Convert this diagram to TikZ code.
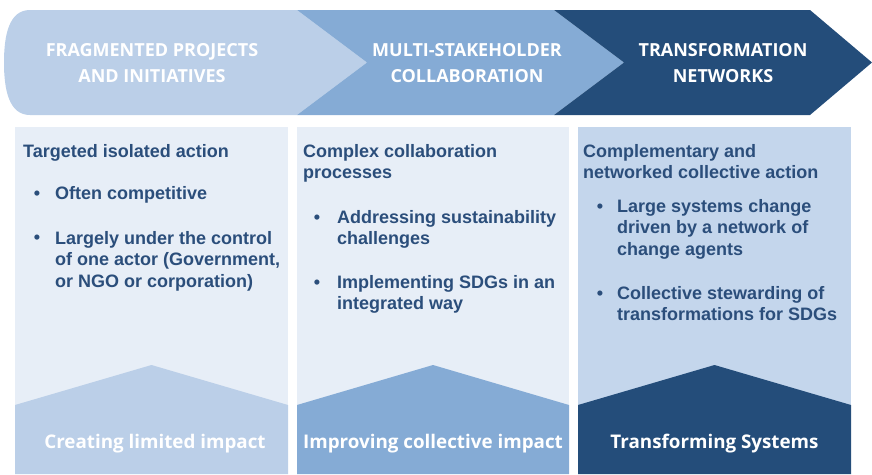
\documentclass[tikz,border=0pt]{standalone}
\usepackage{fontspec}
\setmainfont{Liberation Sans}
\newfontfamily\opensans{Open Sans}
\usepackage{tikz}

\definecolor{stageone}{RGB}{187,207,232}
\definecolor{stagetwo}{RGB}{133,171,213}
\definecolor{stagethree}{RGB}{36,77,122}
\definecolor{panelpale}{RGB}{231,238,247}
\definecolor{panelmid}{RGB}{196,214,236}
\definecolor{textblue}{RGB}{43,78,123}

\begin{document}
\begin{tikzpicture}[x=1pt,y=-1pt,
  paneltext/.style={anchor=base west,align=left,inner sep=0pt,text=textblue,font=\bfseries\fontsize{18}{21.5}\selectfont},
  bulletmark/.style={anchor=base,inner sep=0pt,text=textblue,font=\bfseries\fontsize{18}{21.5}\selectfont},
  stagetext/.style={anchor=base,align=center,inner sep=0pt,text=white,font=\opensans\bfseries\fontsize{18}{26}\selectfont},
  impacttext/.style={anchor=base,inner sep=0pt,text=white,font=\opensans\bfseries\fontsize{18.8}{20}\selectfont}]
\useasboundingbox (0,0) rectangle (872,474);

\fill[stageone] (30,10) -- (297,10) -- (367,62.5) -- (297,115) -- (30,115) .. controls (9,115) and (4,90) .. (4,62.5) .. controls (4,35) and (9,10) .. (30,10) -- cycle;
\fill[stagetwo] (297,10) -- (554,10) -- (624,62.5) -- (554,115) -- (297,115) -- (367,62.5) -- cycle;
\fill[stagethree] (554,10) -- (810,10) -- (872,62.5) -- (810,115) -- (554,115) -- (624,62.5) -- cycle;
\node[stagetext] (s1) at (152,82) {FRAGMENTED PROJECTS\\AND INITIATIVES};
\node[stagetext] (s2) at (467,82) {MULTI-STAKEHOLDER\\COLLABORATION};
\node[stagetext] (s3) at (723,82) {TRANSFORMATION\\NETWORKS};

\fill[panelpale] (15,127) rectangle (288,474);
\fill[panelpale] (297,127) rectangle (569,474);
\fill[panelmid] (578,127) rectangle (851,474);
\fill[stageone] (15,405) -- (151.5,365) -- (288,405) -- (288,474) -- (15,474) -- cycle;
\fill[stagetwo] (297,405) -- (433,365) -- (569,405) -- (569,474) -- (297,474) -- cycle;
\fill[stagethree] (578,405) -- (714.5,365) -- (851,405) -- (851,474) -- (578,474) -- cycle;

\node[paneltext] (h1) at (23,157) {Targeted isolated action};
\node[bulletmark] (d11) at (37,199) {\textbullet};
\node[paneltext] (p11) at (55,199) {Often competitive};
\node[bulletmark] (d12) at (37,243) {\textbullet};
\node[paneltext] (p12) at (55,287) {Largely under the control\\of one actor (Government,\\or NGO or corporation)};

\node[paneltext] (h2) at (303,178.5) {Complex collaboration\\processes};
\node[bulletmark] (d21) at (317,223) {\textbullet};
\node[paneltext] (p21) at (337,244.5) {Addressing sustainability\\challenges};
\node[bulletmark] (d22) at (317,288) {\textbullet};
\node[paneltext] (p22) at (337,309.5) {Implementing SDGs in an\\integrated way};

\node[paneltext] (h3) at (583,178.5) {Complementary and\\networked collective action};
\node[bulletmark] (d31) at (600,212) {\textbullet};
\node[paneltext] (p31) at (617,255) {Large systems change\\driven by a network of\\change agents};
\node[bulletmark] (d32) at (600,299) {\textbullet};
\node[paneltext] (p32) at (617,320.5) {Collective stewarding of\\transformations for SDGs};

\node[impacttext] (i1) at (155,448) {Creating limited impact};
\node[impacttext] (i2) at (433,448) {Improving collective impact};
\node[impacttext] (i3) at (714.5,448) {Transforming Systems};
\end{tikzpicture}
\end{document}
